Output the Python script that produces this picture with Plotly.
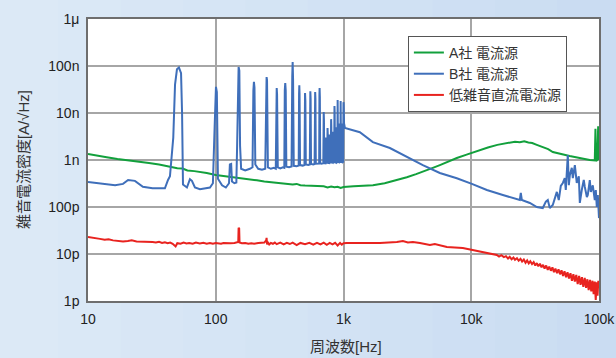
import plotly.graph_objects as go

# ---------------- data ----------------
x_tickvals = [10, 100, 1000, 10000, 100000]
x_ticktext = ["10", "100", "1k", "10k", "100k"]
y_tickvals = [1e-12, 1e-11, 1e-10, 1e-9, 1e-8, 1e-7, 1e-6]
y_ticktext = ["1p", "10p", "100p", "1n", "10n", "100n", "1μ"]

series_names = ["A社 電流源", "B社 電流源", "低雑音直流電流源"]

a_freq = [10, 12, 14, 17, 20, 24, 30, 36, 42, 45, 50, 55, 60, 68, 75, 85, 100, 115, 130,
          150, 170, 185, 210, 240, 270, 300, 330, 360, 400, 430, 460, 500, 546, 600, 650,
          700, 750, 800, 850, 900, 950, 1000, 1200, 1450, 1700, 2100, 2520, 3130, 3700,
          4330, 5000, 5680, 6600, 7710, 9200, 11060, 13500, 16000, 17700, 20000, 22000,
          24000, 26000, 28000, 30000, 32600, 36000, 40000, 43500, 48000, 53000, 58900,
          66000, 74000, 84700, 92700, 93800, 94800, 97000, 98500, 99500]
a_val = [1.34e-9, 1.25e-9, 1.15e-9, 1.05e-9, 1.0e-9, 9.3e-10, 8.6e-10, 8.0e-10, 7.3e-10,
         7.1e-10, 6.7e-10, 6.6e-10, 6.0e-10, 5.8e-10, 5.6e-10, 5.3e-10, 4.8e-10, 4.6e-10,
         4.3e-10, 4.1e-10, 4.0e-10, 3.9e-10, 3.7e-10, 3.5e-10, 3.4e-10, 3.3e-10, 3.2e-10,
         3.15e-10, 3.0e-10, 3.1e-10, 2.9e-10, 2.85e-10, 2.8e-10, 2.75e-10, 2.7e-10,
         2.75e-10, 2.6e-10, 2.72e-10, 2.62e-10, 2.7e-10, 2.55e-10, 2.67e-10, 2.75e-10,
         2.8e-10, 2.9e-10, 3.2e-10, 3.6e-10, 4.3e-10, 5.0e-10, 5.8e-10, 6.8e-10, 7.8e-10,
         9.3e-10, 1.1e-9, 1.3e-9, 1.55e-9, 1.85e-9, 2.1e-9, 2.19e-9, 2.3e-9, 2.45e-9,
         2.4e-9, 2.5e-9, 2.35e-9, 2.3e-9, 2.1e-9, 1.9e-9, 1.7e-9, 1.48e-9, 1.38e-9,
         1.3e-9, 1.22e-9, 1.15e-9, 1.07e-9, 1.0e-9, 9.8e-10, 4.6e-9, 9.5e-10, 1.0e-9,
         5.2e-9, 1.0e-9]

b_freq = [10, 12.4, 16.3, 18.8, 20.6, 23.3, 26.9, 32, 40, 42.3, 43.8, 46.5, 48, 49.7, 51.5,
          53.5, 54.5, 55.4, 59.5, 62.8, 65.1, 68.7, 75.2, 90.1, 95, 98, 100.4, 102, 104,
          112, 120, 127, 129, 132, 134, 140, 145, 147, 149, 151, 153, 155, 158, 170, 185,
          194, 197, 199, 201, 204, 215, 230, 244, 247, 250, 252, 256, 270, 285, 295, 298,
          300, 302, 306, 320, 335, 344, 347, 350, 353, 357, 375, 392, 397, 400, 403, 408,
          430, 446, 449, 451, 453, 457, 480, 495, 498, 500, 503, 507, 530, 545, 548, 550,
          553, 557, 580, 594, 598, 600, 603, 607, 630, 645, 648, 650, 653, 657, 675, 695,
          698, 700, 703, 707, 722, 725, 728, 745, 748, 750, 753, 757, 772, 775, 778, 795,
          798, 800, 803, 807, 822, 825, 828, 845, 848, 850, 853, 857, 872, 875, 878, 895,
          898, 900, 903, 907, 922, 925, 928, 945, 948, 950, 953, 957, 972, 975, 978, 994,
          997, 1000, 1003, 1010, 1026, 1343, 1698, 2306, 3133, 4178, 5675, 7707, 10110,
          13250, 17670, 23990, 24430, 24880, 28750, 32600, 36300, 38370, 39740, 41200,
          43470, 45060, 46760, 48440, 50230, 52100, 53950, 54950, 55980, 57000, 58070,
          59150, 61230, 62380, 64710, 66990, 69500, 70790, 73300, 76000, 77430, 80350,
          81700, 84700, 86300, 89400, 92700, 94400, 96100, 97900, 100000]
b_val = [3.4e-10, 3.2e-10, 2.9e-10, 3.1e-10, 3.75e-10, 3.6e-10, 2.7e-10, 2.5e-10, 2.5e-10,
         3.75e-10, 4.5e-10, 3e-9, 4e-8, 8.5e-8, 9.3e-8, 7e-8, 1e-8, 3e-10, 2.6e-10, 3.9e-10,
         3.6e-10, 2.6e-10, 2.4e-10, 2.6e-10, 3.2e-10, 5e-9, 3.6e-8, 2.8e-8, 4e-10, 2.9e-10,
         2.6e-10, 3.2e-10, 8e-10, 8.2e-10, 3.5e-10, 3.2e-10, 3.3e-10, 2e-9, 6e-8, 9.5e-8,
         8e-8, 2e-9, 6.5e-10, 6e-10, 6.5e-10, 7e-10, 3e-8, 4.6e-8, 3.5e-8, 8e-10, 6.5e-10,
         6.2e-10, 6.5e-10, 3e-8, 5.8e-8, 5e-8, 7e-10, 6.5e-10, 6.8e-10, 6.5e-10, 2e-8,
         3.4e-8, 2.5e-8, 7e-10, 6.6e-10, 7e-10, 6.8e-10, 3e-8, 4.35e-8, 3e-8, 7.2e-10,
         7e-10, 7.3e-10, 6e-8, 1.22e-7, 5e-8, 7.5e-10, 7.4e-10, 7.6e-10, 2.5e-8, 3.9e-8,
         2.5e-8, 7.8e-10, 7.6e-10, 7.8e-10, 2e-8, 2.67e-8, 1.8e-8, 8e-10, 7.8e-10, 8e-10,
         2e-8, 2.9e-8, 2e-8, 8.2e-10, 8e-10, 8.2e-10, 2e-8, 2.8e-8, 2e-8, 8.3e-10, 8.2e-10,
         8.4e-10, 2.4e-8, 3.4e-8, 2.2e-8, 8.5e-10, 8.3e-10, 8.6e-10, 8e-9, 1.05e-8, 7e-9,
         8.6e-10, 8.5e-10, 3e-9, 8.6e-10, 8.8e-10, 4e-9, 4.8e-9, 3.5e-9, 8.7e-10, 8.6e-10,
         3.5e-9, 8.8e-10, 8.8e-10, 6e-9, 7.4e-9, 5e-9, 9e-10, 8.8e-10, 4e-9, 9e-10, 9e-10,
         1.1e-8, 1.4e-8, 1e-8, 9e-10, 8.8e-10, 5e-9, 9e-10, 9e-10, 1.5e-8, 1.9e-8, 1.3e-8,
         9.2e-10, 9e-10, 6e-9, 9.1e-10, 9.1e-10, 1.4e-8, 1.8e-8, 1.2e-8, 9.2e-10, 9e-10,
         6e-9, 9.2e-10, 9.2e-10, 1.4e-8, 1.7e-8, 1.5e-8, 6e-9, 4.8e-9, 3.9e-9, 2.4e-9,
         1.8e-9, 1.16e-9, 7.8e-10, 5.3e-10, 4.1e-10, 3.1e-10, 2.3e-10, 1.8e-10, 1.41e-10,
         2.0e-10, 1.41e-10, 1.22e-10, 1.0e-10, 9.5e-11, 1.3e-10, 1.41e-10, 9.5e-11, 1.1e-10,
         1.6e-10, 2.1e-10, 1.4e-10, 2.8e-10, 3.25e-10, 4.1e-10, 2.3e-10, 8.6e-10, 1.28e-9,
         2.9e-10, 4.8e-10, 6.8e-10, 4.1e-10, 7.8e-10, 3.25e-10, 4.5e-10, 1.22e-10, 2.3e-10,
         3.75e-10, 2.67e-10, 1.63e-10, 1.8e-10, 3.75e-10, 2.1e-10, 2.9e-10, 1.41e-10,
         2.3e-10, 1.0e-10, 1.8e-10, 5.8e-11]

c_freq = [10, 11.5, 12.4, 13.5, 14.5, 15.7, 17, 18.8, 20.5, 22, 24, 25.5, 27, 29, 32, 34,
          36, 38, 40, 42, 44, 46, 48.5, 50, 53, 56, 59, 62, 66, 70, 75, 80, 85, 90, 95, 100,
          105, 110, 115, 122, 130, 140, 146, 150, 151, 152.5, 153.5, 160, 170, 180, 190,
          200, 215, 230, 240, 248, 250, 252, 256, 262, 270, 280, 290, 300, 320, 340, 360,
          380, 400, 430, 460, 500, 540, 580, 620, 660, 700, 740, 780, 820, 860, 900, 940,
          970, 1000, 1065, 1500, 1928, 2617, 2917, 3192, 3493, 3963, 4746, 5190, 6440,
          8590, 10300, 12770, 15850, 16500, 17200, 18000, 18700, 19400, 20000, 20700,
          21400, 22000, 22800, 23500, 24300, 25000, 25800, 26600, 27400, 28200, 29000,
          29900, 30800, 31700, 32600, 33500, 34500, 35500, 36500, 37500, 38600, 39700,
          40800, 42000, 43200, 44400, 45600, 46900, 48200, 49500, 50900, 52300, 53700,
          55200, 56700, 58200, 59800, 61400, 63000, 64700, 66400, 68100, 69900, 71700,
          73500, 75400, 77300, 79200, 81100, 83000, 85000, 87000, 88900, 90800, 92600,
          94300, 95900, 97400, 98800, 100000]
c_val = [2.3e-11, 2.2e-11, 2.1e-11, 2.0e-11, 2.05e-11, 1.95e-11, 1.9e-11, 1.85e-11,
         1.9e-11, 1.95e-11, 1.85e-11, 1.85e-11, 1.8e-11, 1.85e-11, 1.8e-11, 1.75e-11,
         1.82e-11, 1.72e-11, 1.78e-11, 1.7e-11, 1.75e-11, 1.65e-11, 1.45e-11, 1.7e-11,
         1.65e-11, 1.75e-11, 1.68e-11, 1.72e-11, 1.65e-11, 1.75e-11, 1.68e-11, 1.73e-11,
         1.66e-11, 1.72e-11, 1.65e-11, 1.72e-11, 1.68e-11, 1.65e-11, 1.72e-11, 1.68e-11,
         1.7e-11, 1.72e-11, 1.75e-11, 1.8e-11, 3.6e-11, 3.5e-11, 1.75e-11, 1.7e-11,
         1.72e-11, 1.65e-11, 1.7e-11, 1.66e-11, 1.72e-11, 1.7e-11, 1.75e-11, 1.95e-11,
         2.2e-11, 1.6e-11, 1.75e-11, 1.6e-11, 1.72e-11, 1.65e-11, 1.75e-11, 1.62e-11,
         1.74e-11, 1.6e-11, 1.72e-11, 1.63e-11, 1.74e-11, 1.55e-11, 1.72e-11, 1.62e-11,
         1.73e-11, 1.58e-11, 1.72e-11, 1.6e-11, 1.74e-11, 1.57e-11, 1.72e-11, 1.6e-11,
         1.73e-11, 1.52e-11, 1.72e-11, 1.58e-11, 1.7e-11, 1.71e-11, 1.71e-11, 1.71e-11,
         1.8e-11, 1.89e-11, 1.76e-11, 1.8e-11, 1.71e-11, 1.55e-11, 1.63e-11, 1.41e-11,
         1.34e-11, 1.22e-11, 1.1e-11, 9.5e-12, 8.8e-12, 9.4e-12, 8.6e-12, 9.0e-12, 8.0e-12,
         8.7e-12, 7.7e-12, 8.4e-12, 7.5e-12, 8.1e-12, 7.2e-12, 7.9e-12, 6.9e-12, 7.6e-12,
         6.5e-12, 7.3e-12, 6.3e-12, 7.0e-12, 6.1e-12, 6.7e-12, 5.7e-12, 6.4e-12, 5.5e-12,
         6.2e-12, 5.2e-12, 5.9e-12, 4.9e-12, 5.7e-12, 4.6e-12, 5.4e-12, 4.4e-12, 5.2e-12,
         4.1e-12, 4.9e-12, 3.9e-12, 4.7e-12, 3.7e-12, 4.5e-12, 3.4e-12, 4.3e-12, 3.2e-12,
         4.1e-12, 3.0e-12, 3.9e-12, 2.7e-12, 3.7e-12, 2.6e-12, 3.6e-12, 2.3e-12, 3.4e-12,
         2.2e-12, 3.2e-12, 2.0e-12, 3.1e-12, 1.9e-12, 2.9e-12, 1.7e-12, 2.8e-12, 1.6e-12,
         2.7e-12, 1.4e-12, 2.6e-12, 1.05e-12, 2.5e-12, 1.3e-12, 2.7e-12, 1.9e-12]

colors = ["#12a03c", "#3f6fba", "#e8231f"]
bg_strips = ["#dce9f6", "#dae8f6", "#d8e6f5", "#d6e5f5", "#d4e4f4", "#d2e2f4",
             "#d0e1f3", "#cedff3", "#ccdef2", "#cadcf2"]

# ---------------- figure ----------------
fig = go.Figure()
for name, xs, ys, col in zip(series_names, [a_freq, b_freq, c_freq],
                             [a_val, b_val, c_val], colors):
    fig.add_trace(go.Scatter(x=xs, y=ys, mode="lines", name=name,
                             line=dict(color=col, width=2)))

shapes = []
n = len(bg_strips)
x_left, x_right = -0.18, 1.04
w = (x_right - x_left) / n
for i, c in enumerate(bg_strips):
    shapes.append(dict(type="rect", xref="paper", yref="paper", layer="below",
                       x0=x_left + i * w, x1=x_left + (i + 1) * w + 0.002,
                       y0=-0.21, y1=1.08, fillcolor=c, line=dict(width=0)))
shapes.append(dict(type="rect", xref="paper", yref="paper", layer="below",
                   x0=0, x1=1, y0=0, y1=1, fillcolor="white", line=dict(width=0)))

latin_cjk = "Liberation Sans, Arial, Noto Sans CJK JP, sans-serif"
tick_font = dict(family=latin_cjk, size=14, color="#222222")
title_font = dict(family=latin_cjk, size=15, color="#333333")

fig.update_layout(
    width=616, height=358,
    margin=dict(l=88, r=17, t=19, b=57, autoexpand=False),
    paper_bgcolor="#d4e4f4", plot_bgcolor="white",
    shapes=shapes,
    showlegend=True,
    legend=dict(x=0.626, y=0.94, xanchor="left", yanchor="top",
                bgcolor="white", bordercolor="#555555", borderwidth=1,
                font=dict(family=latin_cjk, size=14, color="#333333"),
                itemwidth=30, tracegroupgap=0),
    xaxis=dict(type="log", range=[1, 5], tickvals=x_tickvals, ticktext=x_ticktext,
               showgrid=True, gridcolor="#a6a6a6", gridwidth=1.5, automargin=False,
               showline=True, linecolor="#6e6e6e", linewidth=1.5, mirror=True,
               ticks="", tickfont=tick_font, zeroline=False, ticklabelstandoff=4),
    yaxis=dict(type="log", range=[-12, -6], tickvals=y_tickvals, ticktext=y_ticktext,
               showgrid=True, gridcolor="#a6a6a6", gridwidth=1.5, automargin=False,
               showline=True, linecolor="#6e6e6e", linewidth=1.5, mirror=True,
               ticks="", tickfont=tick_font, zeroline=False, ticklabelstandoff=4),
    annotations=[
        dict(text="雑音電流密度[A/√Hz]", textangle=-90, xref="paper",
             yref="paper", x=-0.127, y=0.5, xanchor="center", yanchor="middle",
             showarrow=False, font=title_font),
        dict(text="周波数[Hz]", xref="paper", yref="paper", x=0.505, y=-0.163,
             xanchor="center", yanchor="middle", showarrow=False, font=title_font),
    ],
)

fig.write_html("out.html", config={"displayModeBar": False},
               post_script="document.body.style.margin='0px';"
                           "document.body.style.overflow='hidden';")
